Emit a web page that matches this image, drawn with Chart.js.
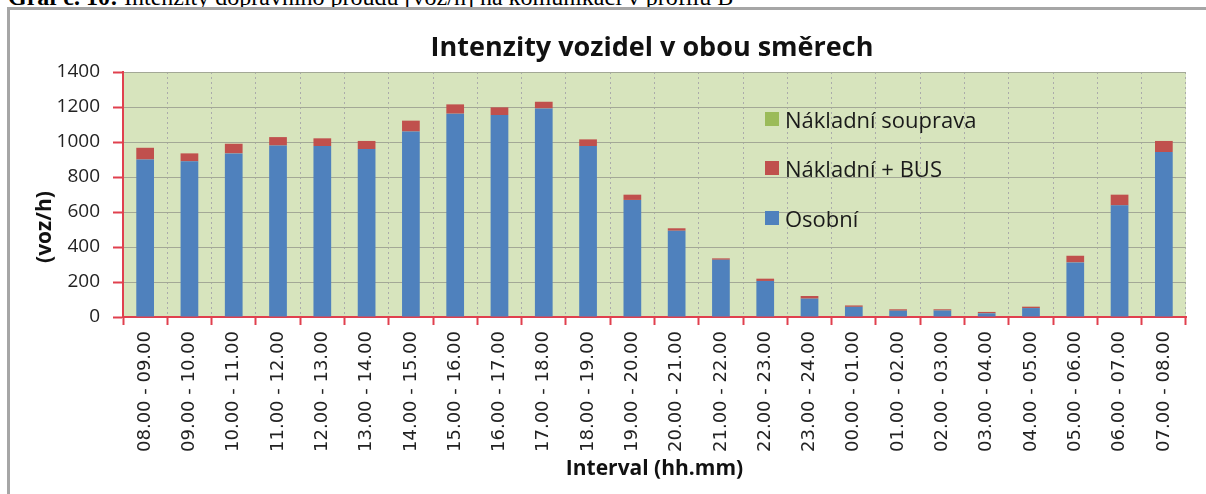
<!DOCTYPE html>
<html lang="cs">
<head>
<meta charset="UTF-8">
<title>Intenzity vozidel v obou směrech</title>
<style>
    body {
        margin: 0;
        background: #fff;
        width: 1206px;
        height: 494px;
        overflow: hidden;
        position: relative;
    }
    .popis {
        position: absolute;
        left: 8px;
        top: -15px;
        font-family: "Liberation Serif", serif;
        font-size: 24px;
        line-height: 24px;
        white-space: nowrap;
        color: #000;
    }
    .ramecek {
        position: absolute;
        left: 7px;
        top: 7px;
        width: 1400px;
        height: 700px;
        border-top: 3px solid #a6a6a6;
        border-left: 3px solid #a6a6a6;
    }
    #obal {
        position: absolute;
        left: 0;
        top: 0;
        width: 1206px;
        height: 494px;
    }
    .legenda {
        position: absolute;
        left: 765px;
        top: 94px;
        font-family: "Open Sans", sans-serif;
        font-size: 22px;
        color: #1a1a1a;
    }
    .legenda .polozka {
        height: 49.5px;
        display: flex;
        align-items: center;
    }
    .legenda .ctverec {
        width: 14px;
        height: 14px;
        margin-right: 6px;
    }
</style>
<script src="https://cdn.jsdelivr.net/npm/chart.js"></script>
</head>
<body>
<div class="popis"><b>Graf č. 10:</b> Intenzity dopravního proudu [voz/h] na komunikaci v profilu B</div>
<div class="ramecek"></div>
<div id="obal"><canvas id="graf"></canvas></div>
<div class="legenda" id="legenda"></div>
<script>
    // data
    const intervaly = ['08.00 - 09.00', '09.00 - 10.00', '10.00 - 11.00', '11.00 - 12.00', '12.00 - 13.00',
        '13.00 - 14.00', '14.00 - 15.00', '15.00 - 16.00', '16.00 - 17.00', '17.00 - 18.00', '18.00 - 19.00',
        '19.00 - 20.00', '20.00 - 21.00', '21.00 - 22.00', '22.00 - 23.00', '23.00 - 24.00', '00.00 - 01.00',
        '01.00 - 02.00', '02.00 - 03.00', '03.00 - 04.00', '04.00 - 05.00', '05.00 - 06.00', '06.00 - 07.00',
        '07.00 - 08.00'];
    const osobni = [900, 890, 935, 980, 977, 960, 1060, 1162, 1154, 1192, 977, 669,
        493, 327, 206, 105, 58, 36, 37, 21, 51, 312, 638, 943];
    const nakladniBus = [67, 45, 55, 48, 44, 46, 62, 53, 44, 38, 38, 30,
        14, 8, 13, 15, 8, 8, 7, 8, 8, 38, 61, 63];
    const nakladniSouprava = [0, 0, 0, 0, 0, 0, 0, 0, 0, 0, 0, 0,
        0, 0, 0, 0, 0, 0, 0, 0, 0, 0, 0, 0];
    const osaYmin = 0;
    const osaYmax = 1400;
    const osaYkrok = 200;

    const cervena = '#e0404e';

    // pozadí plochy a popisky (titulek, osa Y)
    const popisky = {
        id: 'popisky',
        beforeDraw(chart) {
            const {ctx, chartArea: a} = chart;
            ctx.save();
            ctx.fillStyle = '#d7e4bd';
            ctx.fillRect(a.left, a.top, a.right - a.left, a.bottom - a.top);
            ctx.restore();
        },
        afterDraw(chart) {
            const ctx = chart.ctx;
            ctx.save();
            ctx.fillStyle = '#111';
            ctx.font = 'bold 27px "Open Sans"';
            ctx.textAlign = 'center';
            ctx.textBaseline = 'alphabetic';
            ctx.fillText('Intenzity vozidel v obou směrech', 652, 56);
            ctx.translate(45, 227);
            ctx.rotate(-Math.PI / 2);
            ctx.font = 'bold 21px "Open Sans"';
            ctx.textBaseline = 'middle';
            ctx.fillText('(voz/h)', 0, 0);
            ctx.restore();
        }
    };

    const graf = new Chart(document.getElementById('graf'), {
        type: 'bar',
        data: {
            labels: intervaly,
            datasets: [
                {label: 'Osobní', data: osobni, backgroundColor: '#4f81bd'},
                {label: 'Nákladní + BUS', data: nakladniBus, backgroundColor: '#c0504d'},
                {label: 'Nákladní souprava', data: nakladniSouprava, backgroundColor: '#9bbb59'}
            ]
        },
        options: {
            responsive: true,
            maintainAspectRatio: false,
            animation: false,
            layout: {padding: {top: 72, right: 20, left: 0, bottom: 0}},
            datasets: {bar: {barPercentage: 0.4, categoryPercentage: 1.0}},
            plugins: {
                legend: {display: false},
                title: {display: false},
                tooltip: {enabled: false}
            },
            scales: {
                x: {
                    stacked: true,
                    afterFit: s => { s.height = 177; },
                    grid: {color: '#ababab', lineWidth: 1, tickColor: cervena, tickLength: 8, tickWidth: 2},
                    border: {color: cervena, width: 2, dash: [2, 3]},
                    ticks: {
                        autoSkip: false, minRotation: 90, maxRotation: 90, padding: 6,
                        color: '#222', font: {family: 'DejaVu Sans', size: 18}
                    },
                    title: {
                        display: true, text: 'Interval (hh.mm)', color: '#111',
                        font: {family: 'Open Sans', size: 21, weight: 'bold'},
                        padding: {top: 0, bottom: 12}
                    }
                },
                y: {
                    stacked: true,
                    min: osaYmin,
                    max: osaYmax,
                    afterFit: s => { s.width = 123; },
                    grid: {color: '#a3a896', lineWidth: 1, tickColor: cervena, tickLength: 10, tickWidth: 2},
                    border: {color: cervena, width: 2},
                    ticks: {
                        stepSize: osaYkrok, padding: 13, color: '#222',
                        font: {family: 'Open Sans', size: 19},
                        callback: v => String(v)
                    }
                }
            }
        },
        plugins: [popisky]
    });

    // legenda v ploše grafu (pořadí jako v Excelu - obráceně)
    const legenda = document.getElementById('legenda');
    graf.data.datasets.slice().reverse().forEach(ds => {
        const radek = document.createElement('div');
        radek.className = 'polozka';
        const ctverec = document.createElement('span');
        ctverec.className = 'ctverec';
        ctverec.style.background = ds.backgroundColor;
        const text = document.createElement('span');
        text.textContent = ds.label;
        radek.appendChild(ctverec);
        radek.appendChild(text);
        legenda.appendChild(radek);
    });
</script>
</body>
</html>
